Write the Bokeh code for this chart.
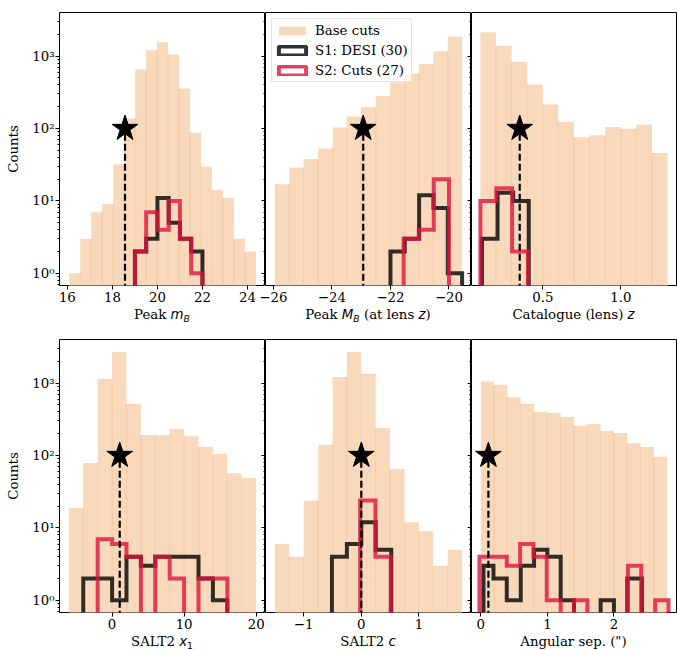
import numpy as np
from bokeh.plotting import figure
from bokeh.models import FixedTicker, Legend, LegendItem, Range1d, Div
from bokeh.layouts import column, row
from bokeh.embed import file_html
from bokeh.resources import INLINE

# ---------------- data ----------------
# Panel 1: Peak m_B
mB_edges = [16.08, 16.57, 17.06, 17.54, 18.03, 18.52, 19.01, 19.50, 19.98, 20.47,
            20.96, 21.45, 21.94, 22.42, 22.91, 23.40, 23.89, 24.38]
mB_base = [1, 3, 7, 9, 32, 138, 655, 1200, 1550, 1050, 357, 88, 30, 14, 11, 3, 2]
mB_s1_edges = [19.0, 19.5, 20.0, 20.5, 21.0, 21.5, 22.0]
mB_s1 = [2, 3, 11, 5, 3, 2]
mB_s2_edges = [19.0, 19.5, 20.0, 20.5, 21.0, 21.5, 22.0]
mB_s2 = [2, 7, 4, 10, 3, 1]
mB_star = 18.56
mB_ticks = [16, 18, 20, 22, 24]
mB_ticklabels = ["16", "18", "20", "22", "24"]

# Panel 2: Peak M_B (at lens z)
MB_edges = [-25.95, -25.46, -24.97, -24.47, -23.98, -23.49, -23.00, -22.50,
            -22.01, -21.52, -21.03, -20.53, -20.04, -19.55]
MB_base = [17, 29, 38, 53, 103, 146, 198, 282, 437, 570, 780, 1170, 1860]
MB_s1_edges = [-22.0, -21.51, -21.02, -20.53, -20.04, -19.55]
MB_s1 = [2, 3, 12, 8, 1]
MB_s2_edges = [-21.55, -21.03, -20.52, -20.0]
MB_s2 = [3, 4, 20]
MB_star = -22.93
MB_ticks = [-26, -24, -22, -20]
MB_ticklabels = ["\u221226", "\u221224", "\u221222", "\u221220"]

# Panel 3: Catalogue (lens) z
z_edges = [0.1, 0.2, 0.3, 0.4, 0.5, 0.6, 0.7, 0.8, 0.9, 1.0, 1.1, 1.2, 1.3]
z_base = [2140, 1380, 830, 405, 215, 123, 76, 81, 105, 99, 114, 46]
z_s1_edges = [0.11, 0.21, 0.31, 0.41]
z_s1 = [3, 13, 10]
z_s2_edges = [0.10, 0.202, 0.303, 0.405]
z_s2 = [10, 15, 2]
z_star = 0.352
z_ticks = [0.5, 1.0]
z_ticklabels = ["0.5", "1.0"]

# Panel 4: SALT2 x1
x1_edges = [-6, -4, -2, 0, 2, 4, 6, 8, 10, 12, 14, 16, 18, 20]
x1_base = [19, 79, 1140, 2690, 520, 192, 190, 232, 185, 132, 105, 57, 49]
x1_s1_edges = [-4, -2, 0, 2, 4, 6, 8, 10, 12, 14, 16]
x1_s1 = [2, 2, 1, 4, 3, 4, 4, 4, 2, 1]
x1_s2_edges = [-2, 0, 2, 4, 6, 8, 10, 12, 14, 16]
x1_s2 = [7, 6, 4, 0, 4, 2, 0, 2, 2]
x1_star = 1.06
x1_ticks = [0, 10, 20]
x1_ticklabels = ["0", "10", "20"]

# Panel 5: SALT2 c
c_edges = [-1.5, -1.25, -1.0, -0.75, -0.5, -0.25, 0.0, 0.25, 0.5, 0.75, 1.0, 1.25, 1.5, 1.75]
c_base = [6, 4, 24, 141, 1210, 2690, 1350, 240, 65, 12, 9, 3, 5]
c_s1_edges = [-0.51, -0.25, 0.0, 0.25, 0.52]
c_s1 = [4, 6, 12, 5]
c_s2_edges = [-0.02, 0.245, 0.51]
c_s2 = [24, 4]
c_star = 0.0
c_ticks = [-1, 0, 1]
c_ticklabels = ["\u22121", "0", "1"]

# Panel 6: Angular separation
sep_edges = [0.0, 0.2, 0.4, 0.6, 0.8, 1.0, 1.2, 1.4, 1.6, 1.8, 2.0, 2.2, 2.4, 2.6, 2.8]
sep_base = [1050, 950, 640, 519, 400, 385, 340, 258, 272, 219, 204, 148, 131, 96]
sep_s1_edges = [0.04, 0.19, 0.39, 0.6, 0.8, 1.0, 1.2, 1.4, 1.6, 1.8, 2.0, 2.2, 2.42]
sep_s1 = [3, 2, 1, 3, 5, 4, 1, 0, 0, 1, 0, 2]
sep_s2_edges = [-0.02, 0.18, 0.39, 0.59, 0.79, 0.99, 1.2, 1.4, 1.6, 1.81, 2.01, 2.21, 2.41, 2.62, 2.82]
sep_s2 = [4, 4, 3, 6, 4, 1, 0, 1, 0, 0, 0, 3, 0, 1]
sep_star = 0.114
sep_ticks = [0, 1, 2]
sep_ticklabels = ["0", "1", "2"]

star_y = 100
legend_labels = ["Base cuts", "S1: DESI (30)", "S2: Cuts (27)"]
y_ticks = [1, 10, 100, 1000]
y_ticklabels = ["10\u2070", "10\u00b9", "10\u00b2", "10\u00b3"]
y_minor = [0.7, 0.8, 0.9, 2, 3, 4, 5, 6, 7, 8, 9, 20, 30, 40, 50, 60, 70, 80, 90,
           200, 300, 400, 500, 600, 700, 800, 900, 2000, 3000]

# x-axis labels: (text, kind) pieces; kind "rm" serif upright, "it" math italic, "sub" subscript
xlabels = [
    [("Peak ", "rm"), ("m", "it"), ("B", "sub")],
    [("Peak ", "rm"), ("M", "it"), ("B", "sub"), (" (at lens ", "rm"), ("z", "it"), (")", "rm")],
    [("Catalogue (lens) ", "rm"), ("z", "it")],
    [("SALT2 ", "rm"), ("x", "it"), ("1", "subrm")],
    [("SALT2 ", "rm"), ("c", "it")],
    [("Angular sep. (&quot;)", "rm")],
]

# ---------------- style ----------------
PEACH = "#f9d9bc"
SEAM = "#f1bb8c"
S1_COLOR = "black"
S2_COLOR = "crimson"
SERIF = "DejaVu Serif"
FLOOR = 1e-3


def step_xy(edges, counts):
    xs = [edges[0]]
    ys = [FLOOR]
    for i, c in enumerate(counts):
        v = c if c > 0 else FLOOR
        xs += [edges[i], edges[i + 1]]
        ys += [v, v]
    xs.append(edges[-1])
    ys.append(FLOOR)
    return xs, ys


def label_html(parts, frame_w, left):
    out = []
    for t, k in parts:
        if k == "rm":
            out.append(t)
        elif k == "it":
            out.append(f"<span style=\"font-family:'DejaVu Sans';font-style:italic\">{t}</span>")
        elif k == "sub":
            out.append(f"<span style=\"font-family:'DejaVu Sans';font-style:italic;font-size:9.3px;"
                       f"position:relative;top:3px\">{t}</span>")
        else:
            out.append(f"<span style=\"font-family:'DejaVu Sans';font-size:9.3px;"
                       f"position:relative;top:3px\">{t}</span>")
    inner = "".join(out)
    return (f"<div style=\"width:{frame_w}px;margin-left:{left}px;text-align:center;"
            f"font-family:'DejaVu Serif';font-size:13.33px;line-height:13px;color:black;"
            f"white-space:nowrap;margin-top:0px\">{inner}</div>")


panels = [
    dict(edges=mB_edges, base=mB_base, s1e=mB_s1_edges, s1=mB_s1, s2e=mB_s2_edges, s2=mB_s2,
         star=mB_star, ticks=mB_ticks, tl=mB_ticklabels, xr=(15.65, 24.8)),
    dict(edges=MB_edges, base=MB_base, s1e=MB_s1_edges, s1=MB_s1, s2e=MB_s2_edges, s2=MB_s2,
         star=MB_star, ticks=MB_ticks, tl=MB_ticklabels, xr=(-26.27, -19.23)),
    dict(edges=z_edges, base=z_base, s1e=z_s1_edges, s1=z_s1, s2e=z_s2_edges, s2=z_s2,
         star=z_star, ticks=z_ticks, tl=z_ticklabels, xr=(0.043, 1.357)),
    dict(edges=x1_edges, base=x1_base, s1e=x1_s1_edges, s1=x1_s1, s2e=x1_s2_edges, s2=x1_s2,
         star=x1_star, ticks=x1_ticks, tl=x1_ticklabels, xr=(-7.3, 21.3)),
    dict(edges=c_edges, base=c_base, s1e=c_s1_edges, s1=c_s1, s2e=c_s2_edges, s2=c_s2,
         star=c_star, ticks=c_ticks, tl=c_ticklabels, xr=(-1.6625, 1.9125)),
    dict(edges=sep_edges, base=sep_base, s1e=sep_s1_edges, s1=sep_s1, s2e=sep_s2_edges, s2=sep_s2,
         star=sep_star, ticks=sep_ticks, tl=sep_ticklabels, xr=(-0.14, 2.94)),
]


def frame_w(col):
    return 206 if col < 2 else 205


def make_panel(idx, spec):
    r, col = divmod(idx, 3)
    fw = frame_w(col)
    p = figure(frame_width=fw, frame_height=273,
               x_range=Range1d(*spec["xr"]), y_range=Range1d(0.68, 4000),
               y_axis_type="log", output_backend="svg", toolbar_location=None,
               min_border_left=(59 if col == 0 else 10), min_border_right=(1 if col == 2 else 0),
               min_border_top=12, min_border_bottom=22)
    if col > 0:
        p.border_fill_alpha = 0
        p.styles = {"margin-left": "-10px"}
    p.outline_line_color = "black"
    p.outline_line_width = 1
    p.grid.visible = False

    xa = p.xaxis[0]
    xa.ticker = FixedTicker(ticks=spec["ticks"], minor_ticks=[])
    xa.major_label_overrides = {t: l for t, l in zip(spec["ticks"], spec["tl"])}
    xa.major_label_text_font = SERIF
    xa.major_label_text_font_size = "10pt"
    xa.major_label_text_color = "black"
    xa.major_tick_out = 4
    xa.major_tick_in = 0
    xa.major_label_standoff = 2
    xa.axis_line_color = None
    xa.major_tick_line_color = "black"

    ya = p.yaxis[0]
    ya.ticker = FixedTicker(ticks=y_ticks, minor_ticks=y_minor)
    ya.major_tick_out = 4
    ya.minor_tick_out = 2
    ya.major_tick_in = 0
    ya.minor_tick_in = 0
    ya.axis_line_color = None
    ya.major_tick_line_color = "black"
    ya.minor_tick_line_color = "black"
    if col == 0:
        ya.major_label_overrides = {t: l for t, l in zip(y_ticks, y_ticklabels)}
        ya.major_label_text_font = SERIF
        ya.major_label_text_font_size = "10pt"
        ya.major_label_text_color = "black"
        ya.major_label_standoff = 1
        ya.axis_label = "Counts"
        ya.axis_label_text_font = SERIF
        ya.axis_label_text_font_size = "10pt"
        ya.axis_label_text_font_style = "normal"
        ya.axis_label_text_color = "black"
        ya.axis_label_standoff = 8
    else:
        ya.major_label_overrides = {t: "" for t in y_ticks}
        ya.major_label_text_font_size = "0px"
        ya.major_label_standoff = 0

    edges = spec["edges"]
    base = spec["base"]
    base_r = p.quad(left=edges[:-1], right=edges[1:], bottom=FLOOR, top=base,
                    fill_color=PEACH, fill_alpha=1.0, line_color=None)
    seam_top = np.minimum(base[:-1], base[1:])
    p.segment(x0=edges[1:-1], y0=FLOOR, x1=edges[1:-1], y1=seam_top,
              line_color=SEAM, line_width=1, line_alpha=0.6)

    xs, ys = step_xy(spec["s1e"], spec["s1"])
    p.line(xs, ys, line_color=S1_COLOR, line_alpha=0.8, line_width=4, line_join="miter")
    xs, ys = step_xy(spec["s2e"], spec["s2"])
    p.line(xs, ys, line_color=S2_COLOR, line_alpha=0.8, line_width=4, line_join="miter")

    p.segment(x0=[spec["star"]], y0=[FLOOR], x1=[spec["star"]], y1=[star_y],
              line_color="black", line_width=2.2, line_dash="7 3")
    p.scatter([spec["star"]], [star_y], marker="star", size=27, color="black")

    if idx == 1:
        nan = [np.nan]
        r1 = p.quad(left=nan, right=nan, top=nan, bottom=nan, fill_alpha=0,
                    line_color=S1_COLOR, line_alpha=0.8, line_width=4)
        r2 = p.quad(left=nan, right=nan, top=nan, bottom=nan, fill_alpha=0,
                    line_color=S2_COLOR, line_alpha=0.8, line_width=4)
        leg = Legend(items=[LegendItem(label=legend_labels[0], renderers=[base_r]),
                            LegendItem(label=legend_labels[1], renderers=[r1]),
                            LegendItem(label=legend_labels[2], renderers=[r2])],
                     location="top_left", margin=6, padding=3, spacing=4,
                     glyph_width=34, glyph_height=11, label_height=16, label_standoff=6,
                     label_text_font=SERIF, label_text_font_size="10pt",
                     label_text_color="black", border_line_color="#cccccc",
                     border_line_width=1, background_fill_alpha=0.8)
        p.add_layout(leg)
    return p


def make_label_div(idx, height):
    col = idx % 3
    left = 59 if col == 0 else 0
    width = left + (frame_w(col) if col < 2 else 206)
    return Div(text=label_html(xlabels[idx], frame_w(col), left), width=width, height=height,
               margin=0)


figs = [make_panel(i, s) for i, s in enumerate(panels)]
divs_top = [make_label_div(i, 20) for i in range(3)]
divs_bot = [make_label_div(i, 16) for i in range(3, 6)]
layout = column(row(*figs[:3]), row(*divs_top), row(*figs[3:]), row(*divs_bot), spacing=0)

open("out.html", "w").write(file_html(layout, INLINE))
